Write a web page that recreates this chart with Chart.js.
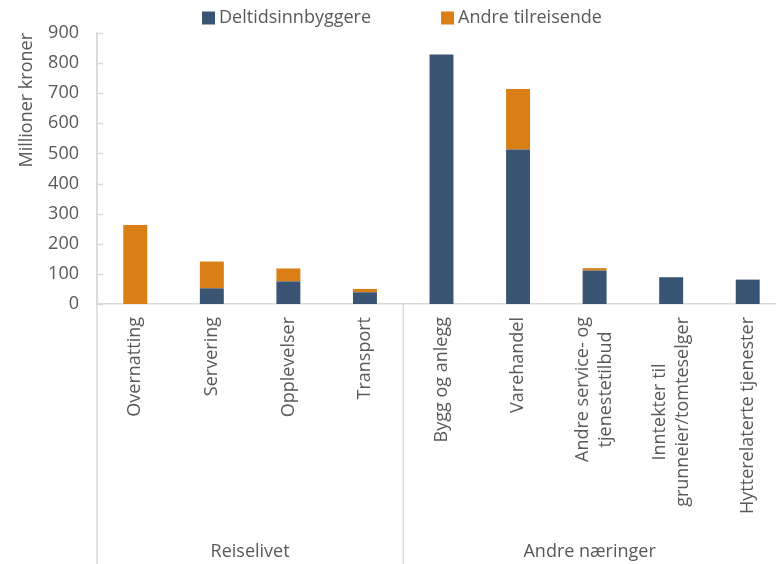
<!DOCTYPE html>
<html>
<head>
<meta charset="utf-8">
<script src="https://cdn.jsdelivr.net/npm/chart.js@4"></script>
<style>
  html, body { margin: 0; background: #fff; overflow: hidden; }
  #wrap { width: 776px; height: 564px; overflow: hidden; }
</style>
</head>
<body>
<div id="wrap"><canvas id="chart" width="786" height="564"></canvas></div>
<script>
// category labels (lines) and their group
const categories = [
  ['Overnatting'], ['Servering'], ['Opplevelser'], ['Transport'],
  ['Bygg og anlegg'], ['Varehandel'], ['Andre service- og', 'tjenestetilbud'],
  ['Inntekter til', 'grunneier/tomteselger'], ['Hytterelaterte tjenester']
];
const groups = ['Reiselivet', 'Andre næringer'];
const groupSizes = [4, 5];

const deltidsinnbyggere = [0, 52, 75, 39, 829, 513, 111, 89, 81];
const andreTilreisende = [262, 89, 43, 11, 0, 201, 8, 0, 0];

const yTicks = [0, 100, 200, 300, 400, 500, 600, 700, 800, 900];

const FONT = "'Open Sans', sans-serif";
const SIZE = 18;
const TEXT = '#595959';
const LINE = '#d9d9d9';
const VIEW_W = 776; // visible width, the plot runs a little past it

// legend on top, drawn by hand so the gaps match
const topLegend = {
  id: 'topLegend',
  afterDraw(chart) {
    const ctx = chart.ctx;
    ctx.save();
    ctx.font = SIZE + 'px ' + FONT;
    ctx.textBaseline = 'middle';
    const box = 13, gapText = 4, gapItem = 70;
    const items = chart.data.datasets.map(d => ({ text: d.label, color: d.backgroundColor, w: ctx.measureText(d.label).width }));
    const total = items.reduce((s, it) => s + box + gapText + it.w, 0) + gapItem * (items.length - 1);
    let x = 402 - total / 2;
    const y = 18;
    items.forEach(it => {
      ctx.fillStyle = it.color;
      ctx.fillRect(x, y - box / 2, box, box);
      ctx.fillStyle = TEXT;
      ctx.fillText(it.text, x + box + gapText, y);
      x += box + gapText + it.w + gapItem;
    });
    ctx.restore();
  }
};

// inner tick marks, rotated category labels, group labels and group lines
const groupAxis = {
  id: 'groupAxis',
  afterDraw(chart) {
    const ctx = chart.ctx;
    const x = chart.scales.x;
    const y = chart.scales.y;
    const area = chart.chartArea;
    const H = chart.height;
    const half = (x.getPixelForValue(1) - x.getPixelForValue(0)) / 2;
    ctx.save();
    ctx.strokeStyle = LINE;
    ctx.lineWidth = 1.5;
    yTicks.forEach(v => {
      const py = Math.round(y.getPixelForValue(v)) + 0.5;
      ctx.beginPath();
      ctx.moveTo(area.left, py);
      ctx.lineTo(area.left + 6, py);
      ctx.stroke();
    });
    // axis left line running down through the label area
    ctx.beginPath();
    ctx.moveTo(area.left, area.top);
    ctx.lineTo(area.left, H);
    ctx.stroke();

    ctx.fillStyle = TEXT;
    ctx.font = SIZE + 'px ' + FONT;
    categories.forEach((lines, i) => {
      const px = x.getPixelForValue(i);
      const lh = 23;
      const w = Math.max(...lines.map(l => ctx.measureText(l).width));
      lines.forEach((t, j) => {
        ctx.save();
        const off = (j - (lines.length - 1) / 2) * lh;
        ctx.translate(px + off, area.bottom + 13);
        ctx.rotate(-Math.PI / 2);
        ctx.textAlign = 'center';
        ctx.textBaseline = 'middle';
        ctx.fillText(t, -w / 2, 0);
        ctx.restore();
      });
    });
    let start = 0;
    const edges = [x.getPixelForValue(0) - half];
    groupSizes.forEach(n => {
      start += n;
      edges.push(x.getPixelForValue(start - 1) + half);
    });
    edges.slice(1, -1).forEach(e => {
      ctx.beginPath();
      ctx.moveTo(e, area.bottom);
      ctx.lineTo(e, H);
      ctx.stroke();
    });
    ctx.textAlign = 'center';
    ctx.textBaseline = 'middle';
    groups.forEach((g, i) => {
      const a = Math.max(edges[i], 0), b = Math.min(edges[i + 1], VIEW_W);
      ctx.fillText(g, (a + b) / 2, H - 12);
    });
    ctx.restore();
  }
};

new Chart(document.getElementById('chart'), {
  type: 'bar',
  data: {
    labels: categories,
    datasets: [
      { label: 'Deltidsinnbyggere', data: deltidsinnbyggere, backgroundColor: '#3a5574' },
      { label: 'Andre tilreisende', data: andreTilreisende, backgroundColor: '#d97f16' }
    ]
  },
  options: {
    responsive: false,
    animation: false,
    devicePixelRatio: 1,
    layout: { padding: { top: 33, bottom: 252, left: 0, right: 0 } },
    datasets: { bar: { categoryPercentage: 1, barPercentage: 0.313 } },
    plugins: {
      legend: { display: false },
      tooltip: { enabled: false }
    },
    scales: {
      x: {
        stacked: true,
        grid: { display: false },
        border: { color: LINE, width: 1.5 },
        ticks: { display: false }
      },
      y: {
        stacked: true,
        min: 0,
        max: 900,
        afterBuildTicks: s => { s.ticks = yTicks.map(v => ({ value: v })); },
        afterFit: s => { s.width = 97; },
        grid: { display: false },
        border: { color: LINE, width: 1.5 },
        ticks: { font: { family: FONT, size: SIZE }, color: TEXT, padding: 10 },
        title: { display: true, text: 'Millioner kroner', align: 'end', font: { family: FONT, size: SIZE }, color: TEXT, padding: 16 }
      }
    }
  },
  plugins: [groupAxis, topLegend]
});
</script>
</body>
</html>
